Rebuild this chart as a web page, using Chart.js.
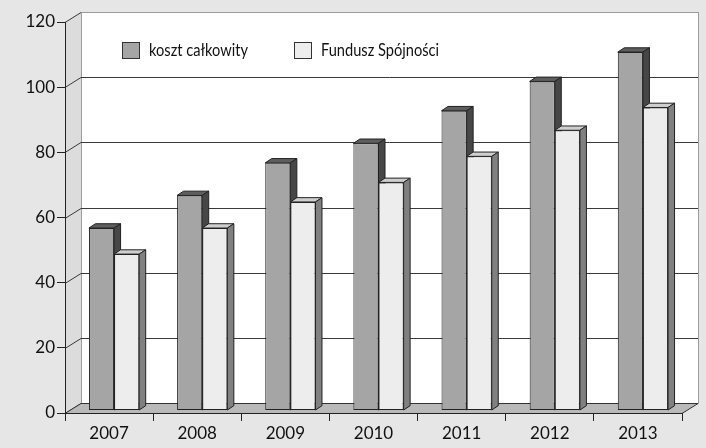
<!DOCTYPE html>
<html>
<head>
<meta charset="utf-8">
<script src="https://cdn.jsdelivr.net/npm/chart.js@4"></script>
<style>
  body { margin: 0; background: #e6e6e6; }
  #wrap { width: 706px; height: 448px; }
</style>
</head>
<body>
<div id="wrap"><canvas id="myChart" width="706" height="448"></canvas></div>
<script>
const years = ['2007', '2008', '2009', '2010', '2011', '2012', '2013']
const kosztCalkowity = [56, 66, 76, 82, 92, 101, 110]
const funduszSpojnosci = [48, 56, 64, 70, 78, 86, 93]
const yMin = 0
const yMax = 120
const yStep = 20

const ctx = document.getElementById('myChart')
const fontFamily = 'Lato, "Open Sans", "DejaVu Sans", sans-serif'

// fake 3d geometry
const depth = { x: 16, y: -10 }
const barShift = { x: 5, y: -2.5 }
const barDepth = { x: 6.5, y: -4.3 }
const faceColors = [
    { top: '#5e5e5e', side: '#474747' },
    { top: '#cfcfcf', side: '#808080' }
]

const frame3d = {
    id: 'frame3d',
    beforeDraw(chart) {
        const c = chart.ctx
        const a = chart.chartArea
        const y = chart.scales.y
        c.save()
        c.fillStyle = '#e6e6e6'
        c.fillRect(0, 0, chart.width, chart.height)

        // side wall
        c.fillStyle = '#dcdcdc'
        c.beginPath()
        c.moveTo(a.left, a.top)
        c.lineTo(a.left + depth.x, a.top + depth.y)
        c.lineTo(a.left + depth.x, a.bottom + depth.y)
        c.lineTo(a.left, a.bottom)
        c.closePath()
        c.fill()

        // back wall
        c.fillStyle = '#ffffff'
        c.fillRect(a.left + depth.x, a.top + depth.y, a.width, a.height)
        c.strokeStyle = '#9c9c9c'
        c.lineWidth = 1
        c.strokeRect(a.left + depth.x + 0.5, a.top + depth.y + 0.5, a.width, a.height)

        // grid lines on back wall + slanted lines on side wall
        y.ticks.forEach(t => {
            const py = Math.round(y.getPixelForValue(t.value)) + 0.5
            c.strokeStyle = '#3a3a3a'
            c.beginPath()
            c.moveTo(a.left, py)
            c.lineTo(a.left + depth.x, py + depth.y)
            if (t.value !== yMax) c.lineTo(a.right + depth.x, py + depth.y)
            c.stroke()
        })

        // floor
        c.fillStyle = '#b9b9b9'
        c.strokeStyle = '#333'
        c.beginPath()
        c.moveTo(a.left, a.bottom + 0.5)
        c.lineTo(a.right, a.bottom + 0.5)
        c.lineTo(a.right + depth.x, a.bottom + depth.y + 0.5)
        c.lineTo(a.left + depth.x, a.bottom + depth.y + 0.5)
        c.closePath()
        c.fill()
        c.stroke()
        c.restore()
    },
    beforeDatasetsDraw(chart) {
        const c = chart.ctx
        c.save()
        c.translate(barShift.x, barShift.y)
        c.lineWidth = 1
        c.strokeStyle = '#222'
        chart.data.datasets.forEach((ds, i) => {
            const meta = chart.getDatasetMeta(i)
            meta.data.forEach(bar => {
                const p = bar.getProps(['x', 'y', 'base', 'width'])
                const left = p.x - p.width / 2
                const right = p.x + p.width / 2
                // top face
                c.fillStyle = faceColors[i].top
                c.beginPath()
                c.moveTo(left, p.y)
                c.lineTo(left + barDepth.x, p.y + barDepth.y)
                c.lineTo(right + barDepth.x, p.y + barDepth.y)
                c.lineTo(right, p.y)
                c.closePath()
                c.fill()
                c.stroke()
                // side face
                c.fillStyle = faceColors[i].side
                c.beginPath()
                c.moveTo(right, p.y)
                c.lineTo(right + barDepth.x, p.y + barDepth.y)
                c.lineTo(right + barDepth.x, p.base + barDepth.y)
                c.lineTo(right, p.base)
                c.closePath()
                c.fill()
                c.stroke()
            })
        })
        // keep translated for the front faces, restored afterwards
    },
    afterDatasetsDraw(chart) {
        chart.ctx.restore()
    },
    afterDraw(chart) {
        const c = chart.ctx
        const a = chart.chartArea
        const legendX = [a.left + 57, a.left + 229]
        const boxTop = a.top + 20
        c.save()
        c.font = '17px ' + fontFamily
        c.textBaseline = 'middle'
        chart.data.datasets.forEach((ds, i) => {
            c.fillStyle = ds.backgroundColor
            c.fillRect(legendX[i], boxTop, 18, 17)
            c.strokeStyle = '#333'
            c.strokeRect(legendX[i] + 0.5, boxTop + 0.5, 17, 16)
            c.fillStyle = '#111'
            // squeeze the text a bit, original font is narrow
            c.save()
            c.translate(legendX[i] + 27, boxTop + 9)
            c.scale(0.86, 1)
            c.fillText(ds.label, 0, 0)
            c.restore()
        })
        c.restore()
    }
}

new Chart(ctx, {
    type: 'bar',
    data: {
        labels: years,
        datasets: [{
            label: 'koszt całkowity',
            data: kosztCalkowity,
            backgroundColor: '#a5a5a5',
            borderColor: '#222',
            borderWidth: 1,
            borderSkipped: false
        }, {
            label: 'Fundusz Spójności',
            data: funduszSpojnosci,
            backgroundColor: '#ededed',
            borderColor: '#222',
            borderWidth: 1,
            borderSkipped: false
        }]
    },
    options: {
        responsive: false,
        animation: false,
        layout: { padding: { top: 22, right: 24, left: 0, bottom: 0 } },
        datasets: { bar: { categoryPercentage: 0.57, barPercentage: 1 } },
        plugins: { legend: { display: false }, tooltip: { enabled: false } },
        scales: {
            x: {
                grid: { drawOnChartArea: false, offset: true, tickLength: 8, color: '#222' },
                border: { color: '#222' },
                ticks: { color: '#111', font: { family: fontFamily, size: 17 }, padding: 2 },
                afterFit: s => { s.height = 35 }
            },
            y: {
                min: yMin,
                max: yMax,
                ticks: { stepSize: yStep, color: '#111', font: { family: fontFamily, size: 17 }, padding: 2 },
                grid: { drawOnChartArea: false, tickLength: 8, color: '#222' },
                border: { color: '#222' },
                afterFit: s => { s.width = 65 }
            }
        }
    },
    plugins: [frame3d]
})
</script>
</body>
</html>
